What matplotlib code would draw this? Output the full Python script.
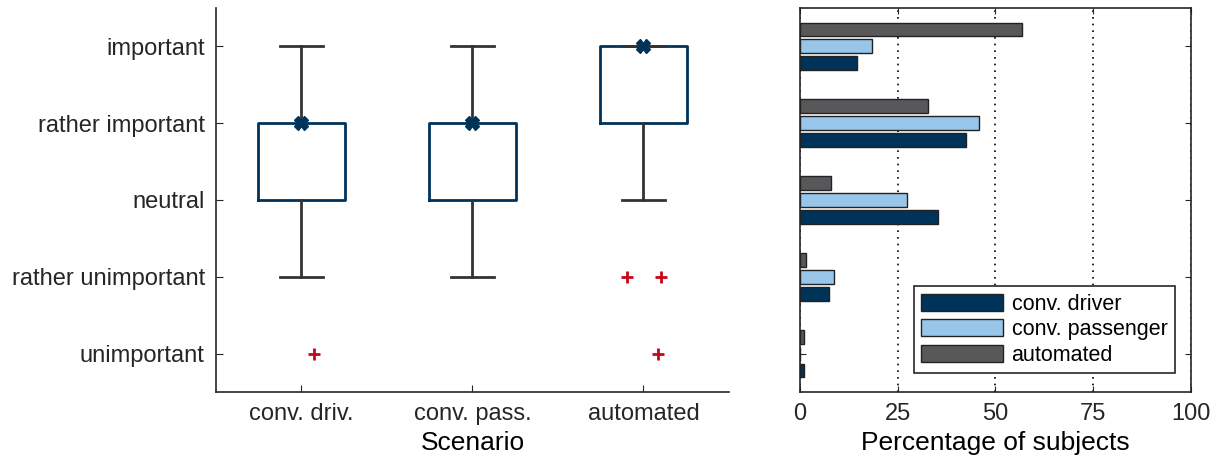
import matplotlib
matplotlib.use('Agg')
import matplotlib.pyplot as plt
import numpy as np

plt.rcParams['font.family'] = ['Liberation Sans', 'DejaVu Sans']

# answer levels (1 = unimportant ... 5 = important)
levels = ['unimportant', 'rather unimportant', 'neutral', 'rather important', 'important']
scenarios = ['conv. driv.', 'conv. pass.', 'automated']

# box plot statistics per scenario
q1 = [3, 3, 4]
q3 = [4, 4, 5]
med = [4, 4, 5]
whislo = [2, 2, 3]
whishi = [5, 5, 5]

# outliers: scenario index, jitter, value
out_scen = [0, 2, 2, 2]
out_jit = [0.076, -0.094, 0.10, 0.082]
out_val = [1, 2, 2, 1]

# percentage of subjects per level (unimportant ... important)
pct_driver = [0.9, 7.3, 35.3, 42.5, 14.5]
pct_passenger = [0.0, 8.8, 27.3, 45.7, 18.4]
pct_automated = [0.9, 1.6, 8.0, 32.8, 56.9]
series_names = ['conv. driver', 'conv. passenger', 'automated']

navy = '#003359'
light = '#98C6EA'
gray = '#58585A'
red = '#C4071B'
dark = '#333333'

fig = plt.figure(figsize=(12.16, 4.62), dpi=100)
ax1 = fig.add_axes([0.1776, 0.1515, 0.4219, 0.8312])
ax2 = fig.add_axes([0.6579, 0.1515, 0.3215, 0.8312])

# left: box plot
pos = np.arange(1, len(scenarios) + 1)
stats = []
for i in range(len(scenarios)):
    stats.append({'q1': q1[i], 'q3': q3[i], 'med': med[i],
                  'whislo': whislo[i], 'whishi': whishi[i], 'fliers': []})
ax1.bxp(stats, positions=pos, widths=0.51, showfliers=False, showcaps=True,
        boxprops=dict(color=navy, linewidth=2),
        whiskerprops=dict(color=dark, linewidth=2),
        capprops=dict(color=dark, linewidth=2),
        medianprops=dict(linewidth=0), capwidths=0.25)
ax1.plot(pos, med, linestyle='none', marker='X', markersize=10,
         color=navy, markeredgecolor=navy, zorder=5)
ax1.plot(pos[out_scen] + np.array(out_jit), out_val, linestyle='none',
         marker='+', markersize=9, markeredgewidth=2, color=red)

ax1.set_xlim(0.5, 3.5)
ax1.set_ylim(0.5, 5.5)
ax1.set_yticks(np.arange(1, 6))
ax1.set_yticklabels(levels)
ax1.set_xticks(pos)
ax1.set_xticklabels(scenarios)
ax1.set_xlabel('Scenario', fontsize=19, labelpad=4)
ax1.spines['top'].set_visible(False)
ax1.spines['right'].set_visible(False)
for s in ax1.spines.values():
    s.set_color('#262626')
    s.set_linewidth(1.2)
ax1.tick_params(direction='in', length=5, labelsize=17, colors='#262626', pad=8)

# right: horizontal bars
y = np.arange(1, 6)
h = 0.18
off = 0.22
ax2.barh(y - off, pct_driver, height=h, color=navy, edgecolor='#222222',
         linewidth=1, label=series_names[0], zorder=3)
ax2.barh(y, pct_passenger, height=h, color=light, edgecolor='#222222',
         linewidth=1, label=series_names[1], zorder=3)
ax2.barh(y + off, pct_automated, height=h, color=gray, edgecolor='#222222',
         linewidth=1, label=series_names[2], zorder=3)
ax2.set_xlim(0, 100)
ax2.set_ylim(0.5, 5.5)
ax2.set_xticks([0, 25, 50, 75, 100])
ax2.set_yticks(y)
ax2.set_yticklabels([])
ax2.grid(axis='x', linestyle=(0, (1, 3)), color='black', linewidth=1.2, zorder=0)
ax2.set_xlabel('Percentage of subjects', fontsize=19, labelpad=4)
for s in ax2.spines.values():
    s.set_color('#262626')
    s.set_linewidth(1.2)
ax2.tick_params(direction='in', length=4, labelsize=17, colors='#262626',
                pad=8, left=True, right=True, top=True)

leg = ax2.legend(loc='lower right', bbox_to_anchor=(0.959, 0.049),
                 borderaxespad=0, fontsize=15.5, handlelength=3.8,
                 handleheight=0.85, labelspacing=0.2, handletextpad=0.4,
                 borderpad=0.35, fancybox=False, framealpha=1)
leg.get_frame().set_edgecolor('#262626')
leg.get_frame().set_linewidth(1.2)

fig.savefig('out.png', dpi=100)
